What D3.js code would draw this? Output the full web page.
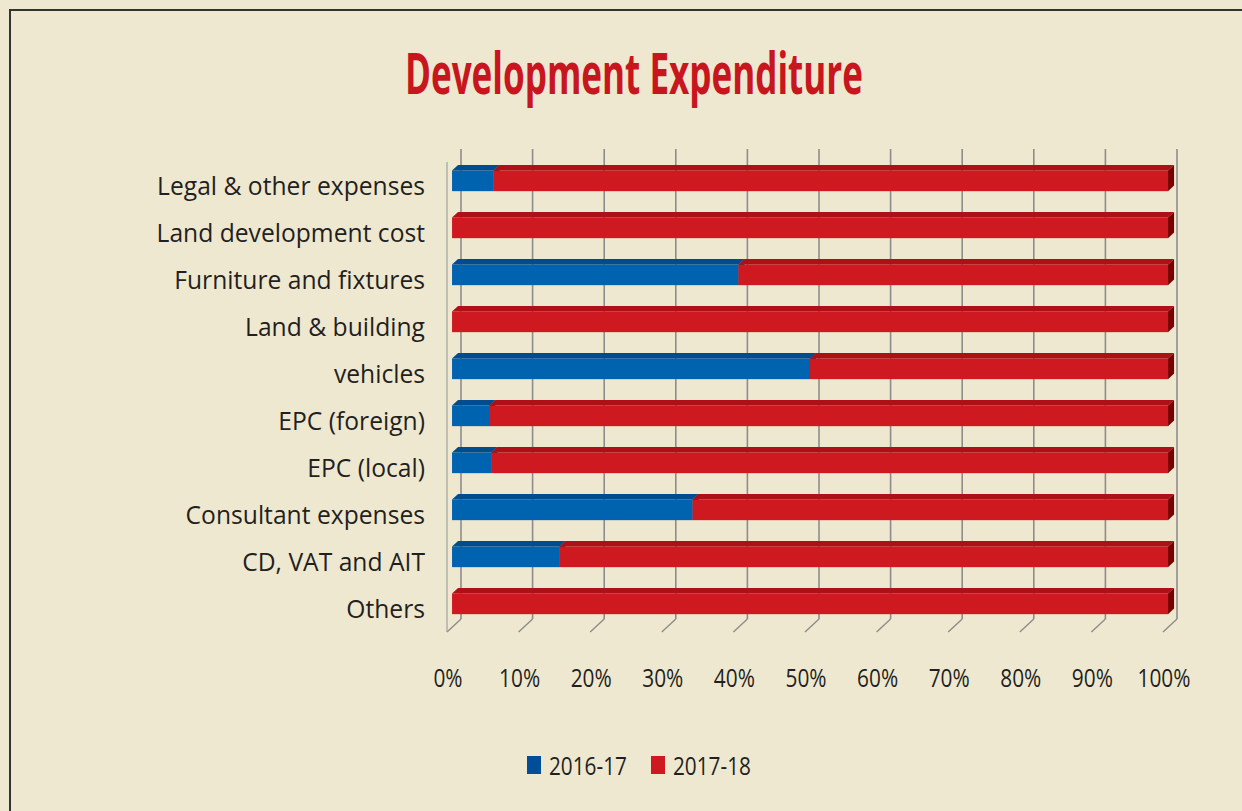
<!DOCTYPE html>
<html>
<head>
<meta charset="utf-8">
<script src="https://cdn.jsdelivr.net/npm/d3@7"></script>
<style>
  html, body { margin: 0; padding: 0; background: #efe8d0; }
  svg { display: block; }
  text { font-family: "Open Sans", "Noto Sans", sans-serif; fill: #231f20; }
</style>
</head>
<body>
<div id="chart"></div>
<script>
// data (share of each year, %)
const categories = [
    "Legal & other expenses",
    "Land development cost",
    "Furniture and fixtures",
    "Land & building",
    "vehicles",
    "EPC (foreign)",
    "EPC (local)",
    "Consultant expenses",
    "CD, VAT and AIT",
    "Others"
];
const share2016 = [5.8, 0, 40, 0, 50, 5.2, 5.5, 33.6, 15, 0];
const share2017 = [94.2, 100, 60, 100, 50, 94.8, 94.5, 66.4, 85, 100];
const seriesNames = ["2016-17", "2017-18"];
const xTicks = [0, 10, 20, 30, 40, 50, 60, 70, 80, 90, 100];

const W = 1242, H = 811;
const svg = d3.select("#chart")
    .append("svg")
    .attr("width", W)
    .attr("height", H);

// frame
svg.append("rect")
    .attr("x", 10).attr("y", 10)
    .attr("width", 1400).attr("height", 1000)
    .attr("fill", "#efe8d0")
    .attr("stroke", "#333")
    .attr("stroke-width", 2);

// title
svg.append("text")
    .attr("x", 634)
    .attr("y", 94)
    .attr("text-anchor", "middle")
    .attr("textLength", 458)
    .attr("lengthAdjust", "spacingAndGlyphs")
    .style("font-size", "57px")
    .style("font-weight", "bold")
    .style("fill", "#c8161e")
    .text("Development Expenditure");

// scales on the front plane, depth offset for the 3d look
const x = d3.scaleLinear().domain([0, 100]).range([447, 1163]);
const y = d3.scaleBand()
    .domain(categories)
    .range([162, 632])
    .paddingInner(0.56)
    .paddingOuter(0.28);
const DX = 14, DY = -13;
const t0 = 0.36, t1 = 0.79;   // bar depth within the box
const P = (v, yy, t) => [x(v) + DX * t, yy + DY * t];

const colors = {
    "2016-17": { front: "#0063b0", top: "#004c8f", side: "#003a70", legend: "#004e98" },
    "2017-18": { front: "#cf1920", top: "#ad1117", side: "#780000", legend: "#cf1920" }
};

const grid = svg.append("g");
// back wall gridlines
grid.selectAll(".gl")
    .data(xTicks)
    .enter()
    .append("line")
    .attr("x1", d => x(d) + DX).attr("x2", d => x(d) + DX)
    .attr("y1", y.range()[0] + DY).attr("y2", y.range()[1] + DY)
    .attr("stroke", "#8c8c8c")
    .attr("stroke-width", 1.6);
// floor diagonals
grid.selectAll(".fl")
    .data(xTicks)
    .enter()
    .append("line")
    .attr("x1", d => x(d)).attr("x2", d => x(d) + DX)
    .attr("y1", y.range()[1]).attr("y2", y.range()[1] + DY)
    .attr("stroke", "#8c8c8c")
    .attr("stroke-width", 1.4);
// left wall front edge
grid.append("line")
    .attr("x1", x(0)).attr("x2", x(0))
    .attr("y1", y.range()[0]).attr("y2", y.range()[1])
    .attr("stroke", "#a0a0a0")
    .attr("stroke-width", 1.2);

// stacked bars
const rows = categories.map((c, i) => ({ cat: c, "2016-17": share2016[i], "2017-18": share2017[i] }));
const stack = d3.stack().keys(seriesNames)(rows);

const poly = pts => "M" + pts.map(p => p.join(",")).join("L") + "Z";

const bars = svg.append("g");
stack.forEach(layer => {
    const col = colors[layer.key];
    const segs = layer.filter(d => d[1] - d[0] > 0.01);
    const g = bars.append("g");
    // front
    g.selectAll(".front")
        .data(segs)
        .enter()
        .append("rect")
        .attr("x", d => P(d[0], 0, t0)[0])
        .attr("y", d => P(0, y(d.data.cat), t0)[1])
        .attr("width", d => x(d[1]) - x(d[0]))
        .attr("height", y.bandwidth())
        .attr("fill", col.front);
    // top
    g.selectAll(".top")
        .data(segs)
        .enter()
        .append("path")
        .attr("d", d => {
            const yt = y(d.data.cat);
            return poly([P(d[0], yt, t0), P(d[1], yt, t0), P(d[1], yt, t1), P(d[0], yt, t1)]);
        })
        .attr("fill", col.top);
    // right side
    g.selectAll(".side")
        .data(segs)
        .enter()
        .append("path")
        .attr("d", d => {
            const yt = y(d.data.cat), yb = yt + y.bandwidth();
            return poly([P(d[1], yt, t0), P(d[1], yt, t1), P(d[1], yb, t1), P(d[1], yb, t0)]);
        })
        .attr("fill", col.side);
});

// category labels, squeezed horizontally like the condensed face in the reference
const labels = svg.append("g").selectAll(".lab")
    .data(categories)
    .enter()
    .append("text")
    .attr("text-anchor", "end")
    .attr("dy", "0.36em")
    .style("font-size", "26px")
    .text(d => d);
const refLen = labels.filter(d => d === "Legal & other expenses").node().getComputedTextLength();
const k = 268 / refLen;
labels.attr("transform", d => `translate(425,${y(d) + y.bandwidth() / 2 + 0.5}) scale(${k},1)`);

// x tick labels (digits are narrower in the reference face)
const ticks = svg.append("g").selectAll(".tick-lab")
    .data(xTicks)
    .enter()
    .append("text")
    .attr("text-anchor", "middle")
    .style("font-size", "26px")
    .text(d => d + "%");
const kt = 53 / ticks.filter(d => d === 100).node().getComputedTextLength();
ticks.attr("transform", d => `translate(${x(d) + 1},687) scale(${kt},1)`);

// legend
const legend = svg.append("g");
const legendX = [527, 651];
seriesNames.forEach((s, i) => {
    legend.append("rect")
        .attr("x", legendX[i]).attr("y", 756)
        .attr("width", 14).attr("height", 18)
        .attr("fill", colors[s].legend);
    const t = legend.append("text")
        .style("font-size", "26px")
        .text(s);
    const kl = 78 / t.node().getComputedTextLength();
    t.attr("transform", `translate(${legendX[i] + 22},775) scale(${kl},1)`);
});
</script>
</body>
</html>
